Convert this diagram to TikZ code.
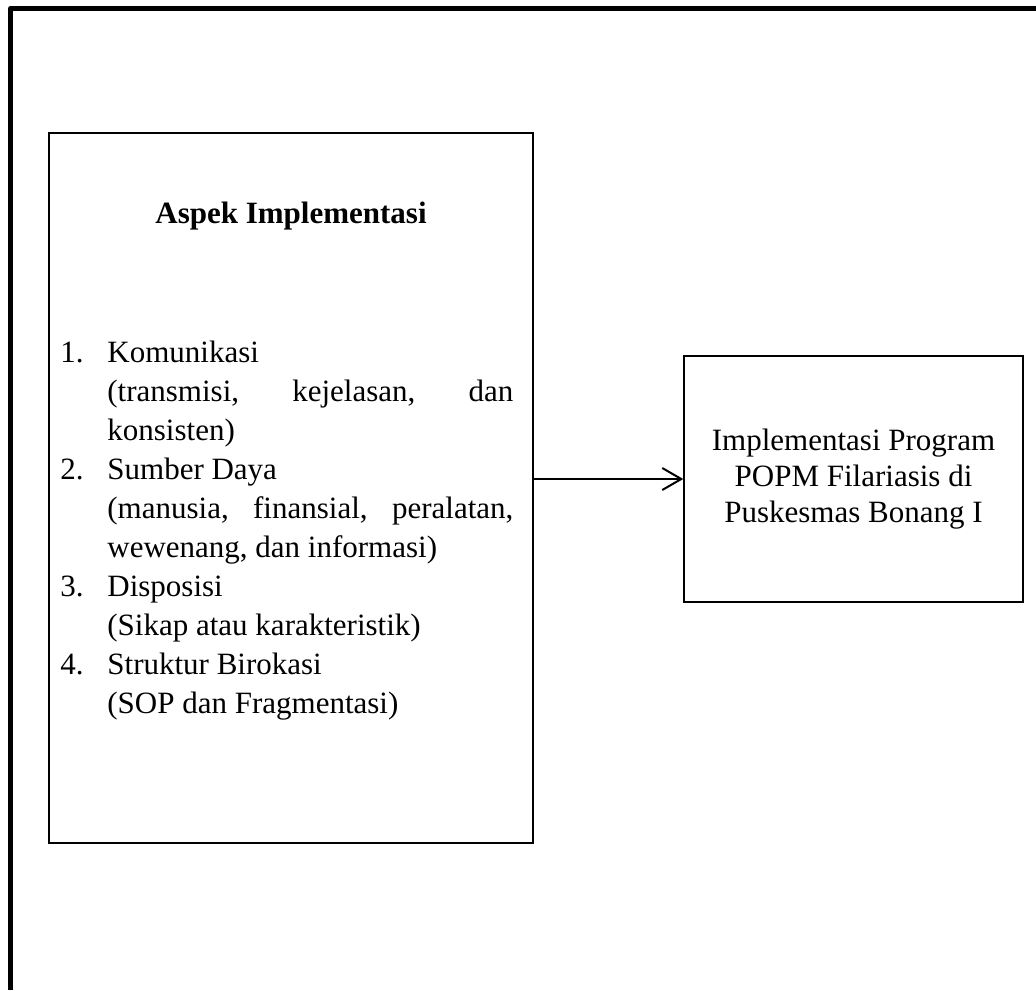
\documentclass[tikz,border=0pt]{standalone}
\usepackage{fontspec}
\setmainfont{Liberation Serif}
\usetikzlibrary{arrows.meta}

% one numbered entry with a hanging indent
\newcommand{\butir}[2]{\par\noindent\hangindent=23.5pt\hangafter=0%
  \llap{\makebox[23.5pt][l]{#1}}#2\par}

\begin{document}
\begin{tikzpicture}[x=0.5pt, y=-0.5pt, >={Straight Barb[length=9.5pt,width=11pt]},
  box/.style={draw, line width=0.75pt, inner sep=0pt},
  teks/.style={font=\fontsize{15.5pt}{19.5pt}\selectfont}]
  \useasboundingbox (0,0) rectangle (1036,990);

  % outer frame, only left and top side show
  \draw[line width=2.5pt, line join=round] (10.5,990) -- (10.5,8.5) -- (1036,8.5);

  % left box: aspects
  \node[box, minimum width=242pt, minimum height=355pt] (aspek) at (291,488) {};
  \node[anchor=base, font=\fontsize{15.5pt}{18pt}\selectfont\bfseries] (judul) at (291,223) {Aspek Implementasi};
  \node[teks, anchor=north west, inner sep=0pt, text width=226.5pt, align=justify] (daftar) at (60,323) {%
    \hyphenpenalty=10000 \tolerance=10000
    \butir{1.}{Komunikasi\newline (transmisi, kejelasan, dan konsisten)}
    \butir{2.}{Sumber Daya\newline (manusia, finansial, peralatan, wewenang, dan informasi)}
    \butir{3.}{Disposisi\newline (Sikap atau karakteristik)}
    \butir{4.}{Struktur Birokasi\newline (SOP dan Fragmentasi)}};

  % right box: program
  \node[box, minimum width=169.5pt, minimum height=123pt, align=center,
    font=\fontsize{15.5pt}{18pt}\selectfont] (popm) at (853.5,479)
    {Implementasi Program\\POPM Filariasis di\\Puskesmas Bonang I};

  % aspek -> popm
  \draw[->, line width=1pt] (aspek.east |- popm.west) -- (popm.west);
\end{tikzpicture}
\end{document}
